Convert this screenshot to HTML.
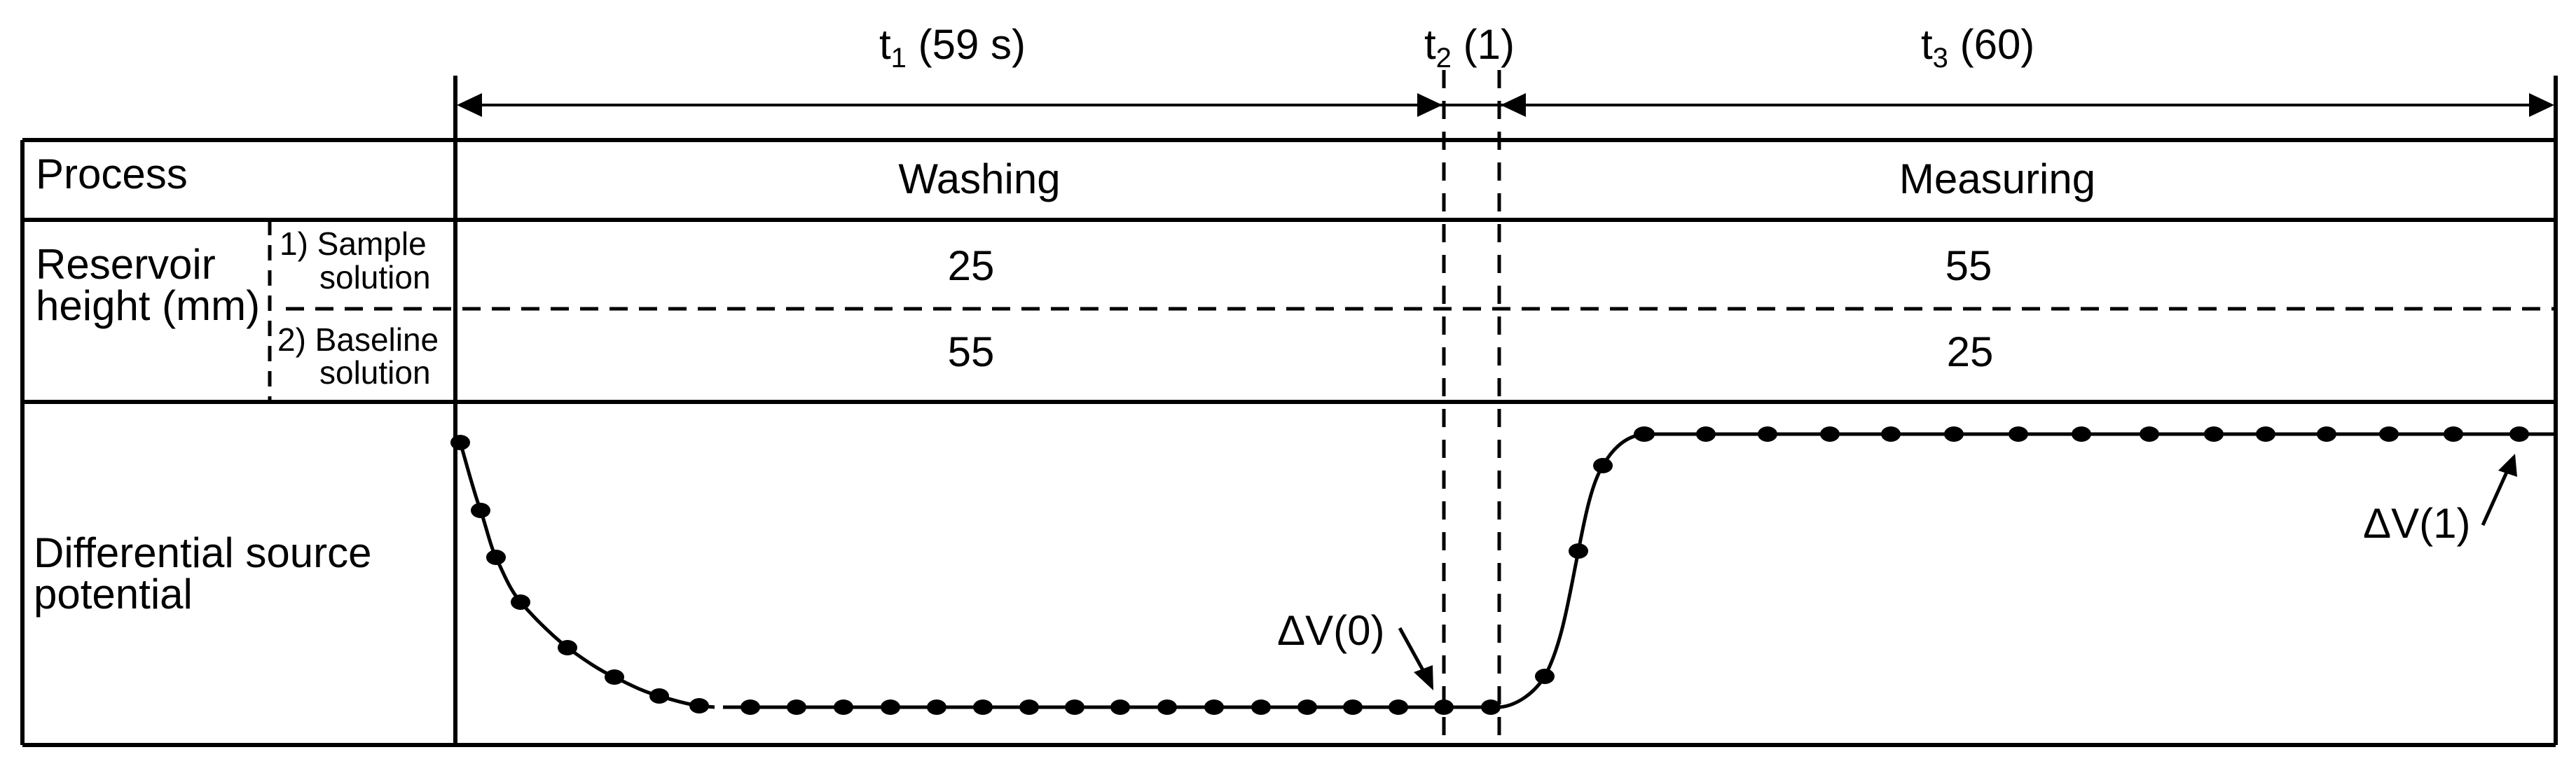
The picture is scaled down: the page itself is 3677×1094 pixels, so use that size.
<!DOCTYPE html>
<html><head><meta charset="utf-8"><style>
html,body{margin:0;padding:0;background:#fff}
svg{display:block}
text{font-family:"Liberation Sans",Arial,sans-serif;fill:#000}
</style></head><body>
<svg width="3677" height="1094" viewBox="0 0 3677 1094" xmlns="http://www.w3.org/2000/svg">
<g stroke="#000" stroke-width="6" fill="none">
  <line x1="32" y1="200" x2="3648" y2="200"/>
  <line x1="32" y1="314" x2="3648" y2="314"/>
  <line x1="32" y1="574" x2="3648" y2="574"/>
  <line x1="32" y1="1064" x2="3648" y2="1064"/>
  <line x1="32" y1="200" x2="32" y2="1064"/>
  <line x1="650" y1="108" x2="650" y2="1064"/>
  <line x1="3648" y1="108" x2="3648" y2="1064"/>
  <line x1="660" y1="150" x2="3640" y2="150" stroke-width="4"/>
</g>
<g stroke="#000" stroke-width="5" fill="none" stroke-dasharray="26,16">
  <line x1="408" y1="441" x2="3648" y2="441"/>
  <line x1="385" y1="314" x2="385" y2="574" stroke-dasharray="22,14"/>
  <line x1="2061" y1="100" x2="2061" y2="1064" stroke-dasharray="26,18"/>
  <line x1="2140" y1="100" x2="2140" y2="1064" stroke-dasharray="26,18"/>
</g>
<g fill="#000">
  <polygon points="652,150 688,133 688,167"/>
  <polygon points="2059,150 2023,133 2023,167"/>
  <polygon points="2142,150 2178,133 2178,167"/>
  <polygon points="3646,150 3610,133 3610,167"/>
</g>
<g stroke="#000" stroke-width="5" fill="none">
  <path d="M657,632 C668,670 677,705 686,729 C694,752 700,780 708,796 C720,822 728,842 743,860 C765,885 785,905 810,925 C835,943 855,957 877,967 C900,978 918,988 941,994 C965,1001 982,1006 998,1008 L1020,1010"/>
  <line x1="1032" y1="1010" x2="2140" y2="1010"/>
  <path d="M2140,1010 C2165,1008 2190,990 2205,966 C2230,920 2240,850 2253,787 C2262,740 2272,690 2288,665 C2305,635 2325,622 2347,620 L3648,620"/>
  <line x1="1998" y1="897" x2="2036" y2="966"/>
  <line x1="3544" y1="750" x2="3580" y2="670"/>
</g>
<g fill="#000">
  <polygon points="2046,986 2018,960 2045,950"/>
  <polygon points="3590,648 3566,672 3593,681"/>
</g>
<g fill="#000">
  <ellipse cx="657" cy="632" rx="14" ry="11"/>
  <ellipse cx="686" cy="729" rx="14" ry="11"/>
  <ellipse cx="708" cy="796" rx="14" ry="11"/>
  <ellipse cx="743" cy="860" rx="14" ry="11"/>
  <ellipse cx="810" cy="925" rx="14" ry="11"/>
  <ellipse cx="877" cy="967" rx="14" ry="11"/>
  <ellipse cx="941" cy="994" rx="14" ry="11"/>
  <ellipse cx="998" cy="1008" rx="14" ry="11"/>
  <ellipse cx="1071" cy="1010" rx="14" ry="11"/>
  <ellipse cx="1137" cy="1010" rx="14" ry="11"/>
  <ellipse cx="1204" cy="1010" rx="14" ry="11"/>
  <ellipse cx="1271" cy="1010" rx="14" ry="11"/>
  <ellipse cx="1337" cy="1010" rx="14" ry="11"/>
  <ellipse cx="1403" cy="1010" rx="14" ry="11"/>
  <ellipse cx="1469" cy="1010" rx="14" ry="11"/>
  <ellipse cx="1534" cy="1010" rx="14" ry="11"/>
  <ellipse cx="1599" cy="1010" rx="14" ry="11"/>
  <ellipse cx="1666" cy="1010" rx="14" ry="11"/>
  <ellipse cx="1733" cy="1010" rx="14" ry="11"/>
  <ellipse cx="1800" cy="1010" rx="14" ry="11"/>
  <ellipse cx="1866" cy="1010" rx="14" ry="11"/>
  <ellipse cx="1931" cy="1010" rx="14" ry="11"/>
  <ellipse cx="1996" cy="1010" rx="14" ry="11"/>
  <ellipse cx="2061" cy="1010" rx="14" ry="11"/>
  <ellipse cx="2128" cy="1010" rx="14" ry="11"/>
  <ellipse cx="2205" cy="966" rx="14" ry="11"/>
  <ellipse cx="2253" cy="787" rx="14" ry="11"/>
  <ellipse cx="2288" cy="665" rx="14" ry="11"/>
  <ellipse cx="2347" cy="620" rx="15" ry="11"/>
  <ellipse cx="2435" cy="620" rx="14" ry="11"/>
  <ellipse cx="2523" cy="620" rx="14" ry="11"/>
  <ellipse cx="2612" cy="620" rx="14" ry="11"/>
  <ellipse cx="2699" cy="620" rx="14" ry="11"/>
  <ellipse cx="2789" cy="620" rx="14" ry="11"/>
  <ellipse cx="2881" cy="620" rx="14" ry="11"/>
  <ellipse cx="2971" cy="620" rx="14" ry="11"/>
  <ellipse cx="3068" cy="620" rx="14" ry="11"/>
  <ellipse cx="3160" cy="620" rx="14" ry="11"/>
  <ellipse cx="3234" cy="620" rx="14" ry="11"/>
  <ellipse cx="3321" cy="620" rx="14" ry="11"/>
  <ellipse cx="3410" cy="620" rx="14" ry="11"/>
  <ellipse cx="3502" cy="620" rx="14" ry="11"/>
  <ellipse cx="3596" cy="620" rx="14" ry="11"/>
</g>
<g font-size="60">
  <text x="1255" y="84">t<tspan font-size="40" dy="12">1</tspan><tspan dy="-12"> (59 s)</tspan></text>
  <text x="2033" y="84">t<tspan font-size="40" dy="12">2</tspan><tspan dy="-12"> (1)</tspan></text>
  <text x="2742" y="84">t<tspan font-size="40" dy="12">3</tspan><tspan dy="-12"> (60)</tspan></text>
  <text x="51" y="269">Process</text>
  <text x="1398" y="276" text-anchor="middle">Washing</text>
  <text x="2851" y="276" text-anchor="middle">Measuring</text>
  <text x="51" y="398">Reservoir</text>
  <text x="51" y="457">height (mm)</text>
  <text x="1386" y="400" text-anchor="middle">25</text>
  <text x="1386" y="523" text-anchor="middle">55</text>
  <text x="2810" y="400" text-anchor="middle">55</text>
  <text x="2812" y="523" text-anchor="middle">25</text>
  <text x="48" y="810">Differential source</text>
  <text x="48" y="869">potential</text>
  <text x="1823" y="921">ΔV(0)</text>
  <text x="3373" y="768">ΔV(1)</text>
</g>
<g font-size="46">
  <text x="399" y="364">1) Sample</text>
  <text x="456" y="412">solution</text>
  <text x="396" y="501">2) Baseline</text>
  <text x="456" y="548">solution</text>
</g>
</svg>
</body></html>
